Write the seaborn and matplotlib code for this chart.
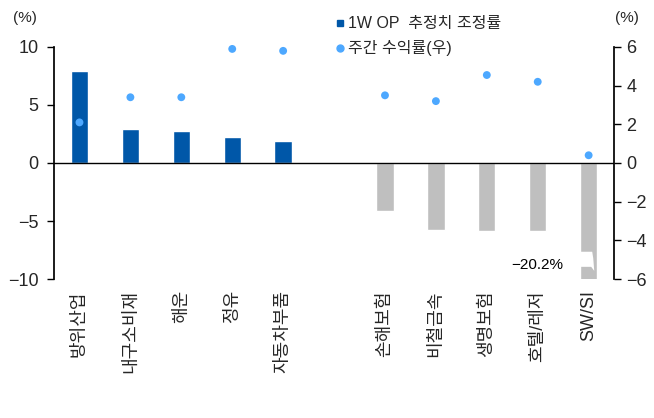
import numpy as np
import pandas as pd
import matplotlib
matplotlib.use("Agg")
import matplotlib.pyplot as plt
import seaborn as sns
from matplotlib.lines import Line2D
from matplotlib.patches import Polygon

# --- data ---
categories = ["방위산업", "내구소비재", "해운", "정유", "자동차부품", " ",
              "손해보험", "비철금속", "생명보험", "호텔/레저", "SW/SI"]
op_revision = [7.9, 2.9, 2.8, 2.2, 1.9, np.nan, -4.1, -5.8, -5.9, -5.9, -20.2]
weekly_return = [2.1, 3.4, 3.4, 5.9, 5.8, np.nan, 3.5, 3.2, 4.55, 4.2, 0.4]
bar_colors = ["#0057a8"] * 5 + ["#ffffff"] + ["#bfbfbf"] * 5
dot_color = "#4da8ff"
left_ticks = [-10, -5, 0, 5, 10]
right_ticks = [-6, -4, -2, 0, 2, 4, 6]
clipped_label = "-20.2%"

sns.set_theme(style="white")
plt.rcParams["font.family"] = ["Liberation Sans", "Noto Sans CJK KR", "DejaVu Sans"]
plt.rcParams["axes.unicode_minus"] = True

df = pd.DataFrame({"cat": categories, "op": op_revision, "ret": weekly_return})

fig = plt.figure(figsize=(6.54, 4.18), dpi=100)
ax = fig.add_axes([0.0826, 0.3325, 0.8564, 0.5551])

sns.barplot(data=df, x="cat", y="op", order=categories, hue="cat",
            palette=dict(zip(categories, bar_colors)), width=0.34,
            legend=False, saturation=1, ax=ax)
ax.set_ylim(-10, 10)
ax.set_yticks(left_ticks)
ax.axhline(0, color="black", lw=1.0, zorder=3)

# break mark on clipped bar
i_clip = len(categories) - 1
w = 0.34
brk = Polygon([(i_clip - w / 2 - 0.02, -7.65), (i_clip + w / 2 - 0.1, -7.65),
               (i_clip + w / 2 - 0.08, -8.2), (i_clip + w / 2 - 0.06, -9.3),
               (i_clip + w / 2 - 0.12, -8.95), (i_clip - w / 2 - 0.02, -8.95)],
              closed=True, facecolor="white", edgecolor="none", zorder=4)
ax.add_patch(brk)
ax.text(i_clip - 1, -8.8, clipped_label.replace("-", "\u2212"), ha="center",
        va="center", fontsize=11, color="black")

ax2 = ax.twinx()
pos = np.arange(len(categories))
sns.scatterplot(x=pos, y=weekly_return, color=dot_color, s=32,
                edgecolor="none", ax=ax2, zorder=5, clip_on=False)
ax2.set_ylim(-6, 6)
ax2.set_yticks(right_ticks)
ax.set_xlim(-0.5, len(categories) - 0.5)

for a in (ax, ax2):
    for s in ("top", "bottom"):
        a.spines[s].set_visible(False)
ax.spines["right"].set_visible(False)
ax2.spines["left"].set_visible(False)
ax.spines["left"].set_color("black")
ax2.spines["right"].set_color("black")
ax.tick_params(axis="y", direction="out", length=5, width=1, color="black",
               left=True, labelsize=13, pad=6)
ax2.tick_params(axis="y", direction="out", length=5, width=1, color="black",
                right=True, labelsize=13, pad=4)
ax.tick_params(axis="x", length=0, labelsize=13, pad=8)
ax.set_xticks(pos)
ax.set_xticklabels(categories, rotation=90, va="top")
ax.set_xlabel("")
ax.set_ylabel("")
ax2.set_ylabel("")

fig.text(0.038, 0.957, "(%)", fontsize=11, ha="center", va="center")
fig.text(0.959, 0.957, "(%)", fontsize=11, ha="center", va="center")

handles = [Line2D([], [], marker="s", color="#0057a8", lw=0, markersize=5),
           Line2D([], [], marker="o", color=dot_color, lw=0, markersize=5)]
fig.legend(handles, ["1W OP  추정치 조정률", "주간 수익률(우)"],
           loc="upper left", bbox_to_anchor=(0.49, 0.995), frameon=False,
           fontsize=11.5, handlelength=0.6, handletextpad=0.2, labelspacing=0.55)

fig.savefig("out.png", dpi=100)
